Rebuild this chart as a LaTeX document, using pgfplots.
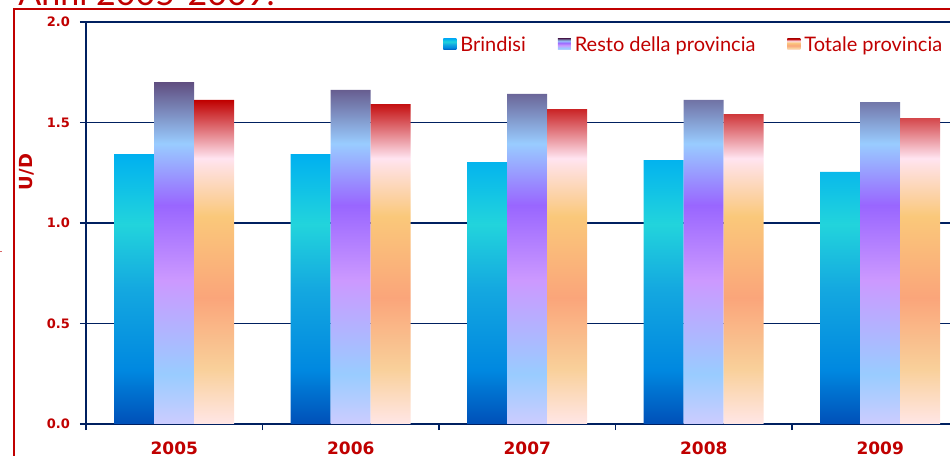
\documentclass[border=0pt]{standalone}
\usepackage{pgfplots}
\pgfplotsset{compat=1.18}
\usepackage{fontspec}
\setmainfont{Lato}
\newfontfamily\tickfont{DejaVu Sans}
\definecolor{dred}{HTML}{C00000}
\definecolor{navy}{HTML}{002060}
% Brindisi
\definecolor{b1}{HTML}{00B0F0}
\definecolor{b2}{HTML}{22D4DC}
\definecolor{b3}{HTML}{14A8E0}
\definecolor{b4}{HTML}{0088E0}
\definecolor{b5}{HTML}{0050B8}
% Resto
\definecolor{r1}{HTML}{604E80}
\definecolor{r2}{HTML}{99CCFF}
\definecolor{r3}{HTML}{9966FF}
\definecolor{r4}{HTML}{CC99FF}
\definecolor{r5}{HTML}{99CCFF}
\definecolor{r6}{HTML}{CCCCFF}
% Totale
\definecolor{t1}{HTML}{C00000}
\definecolor{t2}{HTML}{FFE4F0}
\definecolor{t3}{HTML}{FAC87A}
\definecolor{t4}{HTML}{FAA57A}
\definecolor{t5}{HTML}{F9D09A}
\definecolor{t6}{HTML}{FFE6E6}
\pgfdeclareverticalshading{brind}{100bp}{color(0bp)=(b5); color(25bp)=(b5); color(35bp)=(b4); color(50bp)=(b3); color(62bp)=(b2); color(75bp)=(b1); color(100bp)=(b1)}
\pgfdeclareverticalshading{resto}{100bp}{color(0bp)=(r6); color(25bp)=(r6); color(32.25bp)=(r5); color(46bp)=(r4); color(57bp)=(r3); color(66bp)=(r2); color(75bp)=(r1); color(100bp)=(r1)}
\pgfdeclareverticalshading{totale}{100bp}{color(0bp)=(t6); color(25bp)=(t6); color(33.5bp)=(t5); color(44.5bp)=(t4); color(57bp)=(t3); color(66bp)=(t2); color(75bp)=(t1); color(100bp)=(t1)}
\pgfplotstableread{
x brindisi resto totale
0 1.343 1.701 1.612
1 1.343 1.662 1.592
2 1.303 1.642 1.567
3 1.313 1.612 1.542
4 1.254 1.602 1.522
}\datatab
\begin{document}
\begin{tikzpicture}
\path[use as bounding box, clip] (0,0) rectangle (475pt,228pt);
\draw[dred, line width=0.75pt] (7pt,-5pt) -- (7pt,223.5pt) -- (480pt,223.5pt);
\draw[dred!60, line width=0.5pt] (0pt,102pt) -- (1pt,102pt);
\node[anchor=base west, text=dred, font=\fontsize{17}{20}\selectfont, inner sep=0pt] at (9pt,225pt) {Anni 2005-2009.};
\begin{axis}[
  at={(43pt,16pt)}, anchor=south west,
  scale only axis, width=441.25pt, height=201pt,
  xmin=-0.5, xmax=4.5, ymin=0, ymax=2,
  ybar=0pt, bar width=20pt,
  axis lines*=left,
  axis line style={-, navy, line width=1pt},
  ymajorgrids, grid style={navy, line width=0.6pt},
  tick align=outside, major tick length=3pt,
  tick style={navy, line width=0.6pt},
  xtick={-0.5,0.5,1.5,2.5,3.5,4.5}, xticklabels={},
  extra x ticks={0,1,2,3,4},
  extra x tick labels={2005,2006,2007,2008,2009},
  extra x tick style={major tick length=0pt, tick style={draw=none},
    xticklabel style={font=\tickfont\bfseries\fontsize{8.5}{10}\selectfont, text=dred, yshift=-5.3pt}},
  ytick={0,0.5,1,1.5,2},
  /pgf/number format/assume math mode=true,
  yticklabel style={/pgf/number format/fixed, /pgf/number format/fixed zerofill, /pgf/number format/precision=1,
    font=\tickfont\bfseries\fontsize{6.5}{8}\selectfont, text=dred, xshift=-1.5pt},
  ylabel={U/D},
  ylabel style={at={(axis description cs:-0.0669,0.627)}, anchor=center,
    font=\tickfont\bfseries\fontsize{9}{10}\selectfont, text=dred},
  legend columns=-1,
  legend style={at={(0.982,0.985)}, anchor=north east, draw=none, fill=none,
    font=\fontsize{10}{12}\selectfont, text=dred,
    /tikz/every even column/.append style={column sep=14pt}},
]
\addplot[draw=none, shading=brind,
  legend image code/.code={\path[shading=brind] (0pt,-2.3pt) rectangle (6.5pt,3.2pt);}]
  table[x=x, y=brindisi] {\datatab};
\addplot[draw=none, shading=resto,
  legend image code/.code={\path[shading=resto] (0pt,-2.3pt) rectangle (6.5pt,3.2pt);}]
  table[x=x, y=resto] {\datatab};
\addplot[draw=none, shading=totale,
  legend image code/.code={\path[shading=totale] (0pt,-2.3pt) rectangle (6.5pt,3.2pt);}]
  table[x=x, y=totale] {\datatab};
\legend{Brindisi, Resto della provincia, Totale provincia}
\end{axis}
\end{tikzpicture}
\end{document}
